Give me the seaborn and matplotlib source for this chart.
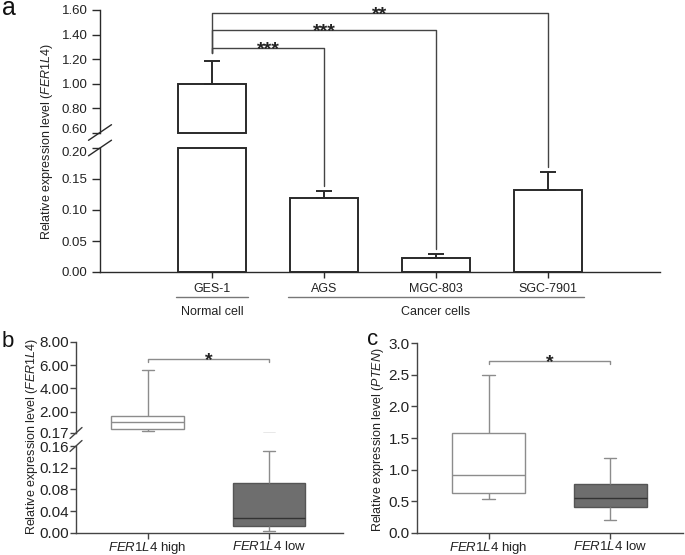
import numpy as np
import pandas as pd
import matplotlib
matplotlib.use("Agg")
import matplotlib.pyplot as plt
import matplotlib.transforms as mtransforms
import seaborn as sns
from matplotlib.lines import Line2D

# panel a: qPCR bars
cells = ["GES-1", "AGS", "MGC-803", "SGC-7901"]
expr = [1.00, 0.12, 0.023, 0.133]
expr_err = [0.185, 0.010, 0.006, 0.029]
groups = ["Normal cell", "Cancer cells"]
group_span = [(0, 0), (1, 3)]
sig_pairs = [(0, 1), (0, 2), (0, 3)]
sig_marks = ["***", "***", "**"]

# panels b, c: five-number summaries (low whisker, Q1, median, Q3, high whisker)
box_labels = [r"$\mathit{FER1L4}$ high", r"$\mathit{FER1L4}$ low"]
fer_high = [0.34, 0.49, 1.14, 1.60, 5.57]
fer_low = [0.004, 0.012, 0.028, 0.091, 0.150]
pten_high = [0.53, 0.63, 0.91, 1.58, 2.50]
pten_low = [0.20, 0.41, 0.55, 0.77, 1.18]

sns.set_theme(style="ticks")
plt.rcParams["font.family"] = ["Liberation Sans", "DejaVu Sans"]
plt.rcParams["mathtext.fontset"] = "custom"
plt.rcParams["mathtext.rm"] = "Liberation Sans"
plt.rcParams["mathtext.it"] = "Liberation Sans:italic"
plt.rcParams["axes.linewidth"] = 1.0

W, H = 685, 555
fig = plt.figure(figsize=(W / 100, H / 100), dpi=100)


def rect(l, t, r, b):
    return [l / W, 1 - b / H, (r - l) / W, (b - t) / H]


def fig_xy(ax, x, y):
    return fig.transFigure.inverted().transform(ax.transData.transform((x, y)))


def break_mark(ax, yfrac, dxp, dyp, color):
    bb = ax.get_window_extent()
    dx, dy = dxp / bb.width, dyp / bb.height
    ax.plot([-dx, dx], [yfrac - dy, yfrac + dy], transform=ax.transAxes,
            color=color, lw=1, clip_on=False)


def star(ax, x, y, mark, size=14):
    # asterisks sit high in the em box, so anchor the baseline a little below the line
    sx, sy = fig_xy(ax, x, y)
    fig.text(sx, sy - 6 / H, mark, ha="center", va="baseline", fontsize=size,
             fontweight="bold", color="#222222")


def style_axis(ax, color, size, ylen=4, ypad=3):
    sns.despine(ax=ax)
    for s in ("left", "bottom"):
        ax.spines[s].set_color(color)
    ax.tick_params(axis="both", direction="out", length=4, width=1,
                   color=color, labelsize=size, labelcolor="#222222", pad=3)
    ax.tick_params(axis="y", length=ylen, pad=ypad)
    ax.set_xlabel("")
    ax.set_ylabel("")
    ax.set_facecolor("none")


def nudge_label(ax, text, dy_px):
    off = mtransforms.ScaledTranslation(0, dy_px / 100, fig.dpi_scale_trans)
    for lab in ax.get_yticklabels():
        if lab.get_text() == text:
            lab.set_transform(lab.get_transform() + off)


# ---------------- panel a ----------------
dark = "#2a2a2a"
ax_top = fig.add_axes(rect(100, 10, 660, 132.5))
ax_bot = fig.add_axes(rect(100, 148, 660, 272))
df_a = pd.DataFrame({"cell": cells, "expr": expr})
top_lo, top_hi, bot_hi = 0.6, 1.6, 0.2

for ax in (ax_top, ax_bot):
    sns.barplot(data=df_a, x="cell", y="expr", color="white", edgecolor=dark,
                linewidth=1.4, width=0.6, errorbar=None, ax=ax)
    ax.errorbar(range(len(cells)), expr, yerr=[np.zeros(len(cells)), expr_err],
                fmt="none", ecolor=dark, elinewidth=1.4, capsize=6, capthick=1.4)
    ax.set_xlim(-1, 4)
    style_axis(ax, dark, 9.5, ylen=6, ypad=3)

for p in ax_top.patches:
    if p.get_height() > top_lo:
        p.set_height(p.get_height() - top_lo)
        p.set_y(top_lo)
        p.set_clip_on(False)
for p in ax_bot.patches:
    if p.get_height() > bot_hi:
        p.set_height(bot_hi)
        p.set_clip_on(False)

ax_top.set_ylim(top_lo, top_hi)
ax_top.set_yticks(np.arange(0.6, 1.61, 0.2))
ax_top.set_yticklabels([f"{v:.2f}" for v in np.arange(0.6, 1.61, 0.2)])
ax_top.spines["bottom"].set_visible(False)
ax_top.tick_params(bottom=False, labelbottom=False)
ax_bot.set_ylim(0, bot_hi)
ax_bot.set_yticks(np.arange(0, 0.201, 0.05))
ax_bot.set_yticklabels([f"{v:.2f}" for v in np.arange(0, 0.201, 0.05)])
ax_bot.tick_params(axis="x", labelsize=9, pad=4)
nudge_label(ax_top, "0.60", 4)
nudge_label(ax_bot, "0.20", -4)

break_mark(ax_top, 0, 11.5, 7.8, dark)
break_mark(ax_bot, 1, 11.5, 7.8, dark)

xt = ax_bot.get_xaxis_transform()
for name, (g0, g1) in zip(groups, group_span):
    ax_bot.plot([g0 - 0.32, g1 + 0.32], [-0.2, -0.2], transform=xt,
                color="#777777", lw=1, clip_on=False)
    ax_bot.text((g0 + g1) / 2, -0.32, name, transform=xt, ha="center",
                va="center", fontsize=9, color="#222222")

# significance brackets spanning the broken axis
bracket_y = [1.292, 1.439, 1.578]
left_leg = 1.251
for (i, j), mark, by in zip(sig_pairs, sig_marks, bracket_y):
    right_end = expr[j] + expr_err[j] + 0.008
    pts = [fig_xy(ax_top, i, left_leg), fig_xy(ax_top, i, by),
           fig_xy(ax_top, j, by), fig_xy(ax_bot, j, right_end)]
    xs, ys = zip(*pts)
    fig.add_artist(Line2D(xs, ys, color="#444444", lw=1))
    star(ax_top, (i + j) / 2, by, mark)

fig.text(47 / W, 1 - 141 / H, r"Relative expression level ($\mathit{FER1L4}$)",
         rotation=90, ha="center", va="center", fontsize=9, color="#222222")

# ---------------- panel b ----------------
grey = "#8c8c8c"
axis_grey = "#444444"
ax_bt = fig.add_axes(rect(76, 341.7, 343, 433))
ax_bb = fig.add_axes(rect(76, 446, 343, 532.7))
df_b = pd.DataFrame({"group": np.repeat(box_labels, 5), "value": fer_high + fer_low})
for ax in (ax_bt, ax_bb):
    sns.boxplot(data=df_b, x="group", y="value", hue="group",
                palette=["white", "#6e6e6e"], saturation=1, width=0.6,
                whis=(0, 100), linecolor=grey, linewidth=1, capwidths=0.1,
                legend=False, ax=ax)
    for ln in ax.lines:
        if np.allclose(ln.get_ydata(), fer_low[2]):
            ln.set_color("#333333")
    if len(ax.patches) > 1:
        ax.patches[1].set_edgecolor("#555555")
    ax.set_xlim(-0.59, 1.61)
    style_axis(ax, axis_grey, 11, ylen=4, ypad=1)

ax_bt.set_ylim(0.17, 8.0)
ax_bt.set_yticks([0.17, 2, 4, 6, 8])
ax_bt.set_yticklabels(["0.17", "2.00", "4.00", "6.00", "8.00"])
ax_bt.spines["bottom"].set_visible(False)
ax_bt.tick_params(bottom=False, labelbottom=False)
ax_bb.set_ylim(0, 0.16)
ax_bb.set_yticks(np.arange(0, 0.161, 0.04))
ax_bb.set_yticklabels([f"{v:.2f}" for v in np.arange(0, 0.161, 0.04)])
ax_bb.tick_params(axis="x", labelsize=9.5, pad=1)
break_mark(ax_bt, 0, 6, 5.5, axis_grey)
break_mark(ax_bb, 1, 6, 5.5, axis_grey)

ax_bt.plot([0, 0, 1, 1], [6.24, 6.52, 6.52, 6.24], color=grey, lw=1, clip_on=False)
star(ax_bt, 0.5, 6.52, "*")
fig.text(31.7 / W, 1 - 436 / H, r"Relative expression level ($\mathit{FER1L4}$)",
         rotation=90, ha="center", va="center", fontsize=9, color="#222222")

# ---------------- panel c ----------------
ax_c = fig.add_axes(rect(416.7, 343.3, 683.3, 532.7))
df_c = pd.DataFrame({"group": np.repeat(box_labels, 5), "value": pten_high + pten_low})
sns.boxplot(data=df_c, x="group", y="value", hue="group",
            palette=["white", "#6e6e6e"], saturation=1, width=0.6,
            whis=(0, 100), linecolor=grey, linewidth=1, capwidths=0.1,
            legend=False, ax=ax_c)
for ln in ax_c.lines:
    if np.allclose(ln.get_ydata(), pten_low[2]):
        ln.set_color("#333333")
ax_c.patches[1].set_edgecolor("#555555")
ax_c.set_xlim(-0.59, 1.6)
style_axis(ax_c, axis_grey, 11, ylen=4, ypad=1)
ax_c.tick_params(axis="x", labelsize=9.5, pad=1)
ax_c.set_ylim(0, 3.0)
ax_c.set_yticks(np.arange(0, 3.01, 0.5))
ax_c.set_yticklabels([f"{v:.1f}" for v in np.arange(0, 3.01, 0.5)])
ax_c.plot([0, 0, 1, 1], [2.68, 2.72, 2.72, 2.68], color=grey, lw=1, clip_on=False)
star(ax_c, 0.5, 2.72, "*")
fig.text(377.5 / W, 1 - 440 / H, r"Relative expression level ($\mathit{PTEN}$)",
         rotation=90, ha="center", va="center", fontsize=9, color="#222222")

# panel letters
fig.text(2 / W, 1 - 15 / H, "a", fontsize=18, va="baseline", color="#111111")
fig.text(2 / W, 1 - 346.7 / H, "b", fontsize=16, va="baseline", color="#111111")
fig.text(367 / W, 1 - 345 / H, "c", fontsize=16, va="baseline", color="#111111")

fig.savefig("out.png", dpi=100)
